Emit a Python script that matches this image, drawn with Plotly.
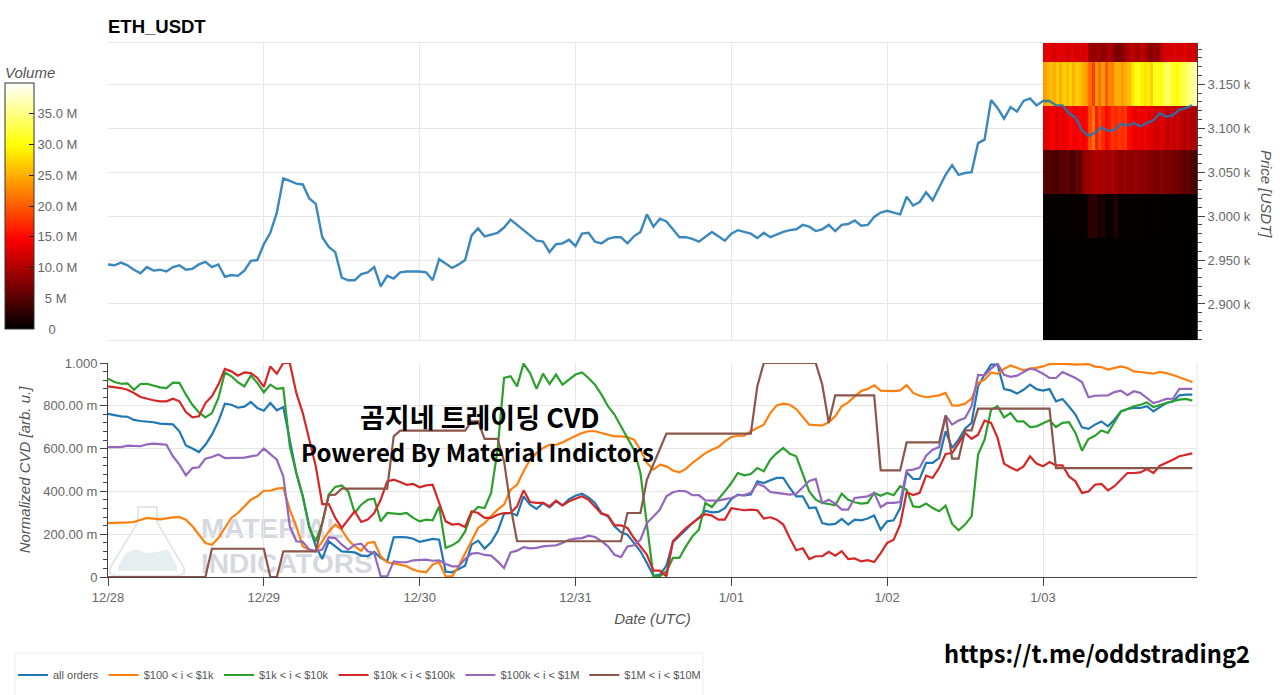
import pandas as pd
import plotly.graph_objects as go

# hourly samples, 12/28 00:00 onwards
START = "2025-12-28 00:00"
AXIS_END = "2026-01-03 23:43"

price = [
    2945, 2944, 2947, 2944, 2939, 2935, 2942, 2938, 2939, 2937,
    2942, 2944, 2939, 2940, 2945, 2948, 2942, 2945, 2931, 2933,
    2932, 2938, 2949, 2950, 2968, 2981, 3004, 3043, 3040, 3037,
    3036, 3020, 3014, 2976, 2965, 2959, 2930, 2927, 2927, 2934,
    2936, 2942, 2920, 2932, 2929, 2936, 2937, 2937, 2937, 2936,
    2927, 2951, 2946, 2941, 2945, 2950, 2978, 2986, 2977, 2979,
    2981, 2987, 2996, 2990, 2984, 2978, 2972, 2971, 2959, 2968,
    2969, 2973, 2966, 2980, 2981, 2971, 2969, 2974, 2976, 2976,
    2969, 2977, 2982, 3002, 2988, 2997, 2994, 2985, 2976, 2976,
    2974, 2971, 2976, 2982, 2977, 2972, 2980, 2984, 2982, 2980,
    2975, 2981, 2976, 2979, 2982, 2984, 2985, 2990, 2988, 2983,
    2985, 2990, 2983, 2990, 2991, 2995, 2989, 2990, 2999, 3004,
    3006, 3004, 3002, 3022, 3012, 3016, 3027, 3018, 3033, 3047,
    3058, 3047, 3049, 3050, 3083, 3087, 3132, 3123, 3111, 3124,
    3119, 3131, 3134, 3126, 3131, 3131, 3126, 3126, 3117, 3112,
    3098, 3091, 3095, 3101, 3097, 3098, 3105, 3103, 3106, 3102,
    3106, 3109, 3117, 3113, 3115, 3121, 3123, 3126,
]

all_orders = [
    .762, .755, .751, .749, .734, .729, .727, .723, .717, .715,
    .713, .681, .615, .600, .584, .618, .665, .727, .810, .805,
    .791, .796, .818, .790, .777, .813, .779, .794, .642, .486,
    .377, .237, .143, .084, .167, .143, .120, .117, .115, .100,
    .097, .117, .089, .073, .185, .187, .185, .179, .164, .171,
    .178, .174, .025, .022, .037, .053, .151, .170, .133, .162,
    .213, .296, .299, .288, .377, .338, .318, .346, .326, .354,
    .335, .364, .380, .389, .372, .346, .299, .283, .237, .209,
    .198, .159, .120, .065, .006, .011, .053, .162, .190, .221,
    .252, .276, .310, .302, .304, .322, .364, .385, .381, .385,
    .447, .439, .452, .463, .463, .416, .377, .377, .322, .325,
    .252, .245, .248, .271, .245, .268, .265, .273, .287, .221,
    .260, .265, .322, .489, .458, .458, .533, .533, .556, .681,
    .603, .642, .693, .720, .891, .946, .992, .992, .878, .872,
    .857, .875, .899, .878, .871, .878, .821, .832, .797, .759,
    .699, .692, .712, .727, .704, .735, .774, .785, .790, .790,
    .798, .774, .794, .813, .821, .849, .852, .852,
]

orders_100_1k = [
    .252, .252, .254, .255, .257, .268, .276, .273, .269, .274,
    .279, .280, .268, .237, .198, .159, .151, .182, .229, .276,
    .299, .330, .361, .377, .403, .403, .413, .416, .315, .237,
    .143, .128, .120, .167, .213, .245, .221, .174, .143, .123,
    .159, .164, .097, .069, .065, .058, .050, .034, .026, .022,
    .058, .069, .003, .003, .050, .112, .167, .229, .252, .283,
    .315, .338, .408, .431, .494, .548, .579, .603, .618, .618,
    .629, .645, .660, .673, .681, .681, .673, .665, .657, .657,
    .654, .642, .595, .533, .502, .525, .517, .498, .489, .505,
    .533, .556, .579, .595, .607, .634, .654, .660, .660, .681,
    .696, .712, .766, .802, .810, .805, .785, .751, .712, .710,
    .708, .723, .751, .798, .816, .844, .869, .879, .896, .871,
    .869, .869, .872, .897, .860, .847, .840, .844, .849, .860,
    .802, .801, .810, .833, .907, .922, .956, .949, .972, .989,
    .977, .966, .974, .977, .984, .995, .997, .997, .995, .992,
    .992, .995, .983, .981, .969, .977, .984, .977, .961, .958,
    .955, .950, .958, .953, .944, .933, .919, .911,
]

orders_1k_10k = [
    .927, .911, .903, .905, .875, .902, .903, .896, .886, .883,
    .908, .907, .852, .805, .769, .746, .766, .836, .956, .938,
    .911, .891, .941, .907, .863, .899, .879, .883, .611, .486,
    .377, .229, .167, .252, .385, .421, .428, .400, .299, .338,
    .361, .366, .260, .299, .296, .294, .299, .276, .260, .268,
    .265, .330, .136, .148, .167, .213, .299, .327, .322, .393,
    .595, .930, .938, .891, .997, .953, .879, .950, .902, .946,
    .899, .922, .946, .956, .930, .899, .852, .798, .759, .704,
    .650, .595, .486, .252, .003, .003, .026, .089, .089, .143,
    .190, .221, .346, .327, .361, .400, .439, .486, .475, .481,
    .509, .494, .548, .579, .603, .576, .564, .486, .400, .361,
    .346, .341, .335, .389, .361, .349, .343, .346, .393, .380,
    .393, .382, .424, .408, .330, .327, .343, .322, .307, .333,
    .248, .218, .245, .283, .572, .642, .782, .798, .746, .766,
    .727, .727, .701, .704, .720, .732, .701, .720, .723, .673,
    .590, .645, .660, .685, .673, .727, .774, .785, .798, .805,
    .816, .794, .805, .813, .821, .829, .832, .824,
]

orders_10k_100k = [
    .891, .888, .883, .875, .860, .841, .833, .826, .821, .821,
    .833, .821, .771, .746, .751, .813, .844, .899, .972, .961,
    .941, .956, .953, .930, .888, .984, .950, 1.00, 1.00, .860,
    .766, .642, .517, .341, .341, .276, .229, .268, .307, .257,
    .268, .299, .361, .447, .455, .444, .431, .435, .419, .428,
    .431, .346, .260, .245, .248, .234, .307, .299, .276, .276,
    .291, .299, .299, .330, .405, .350, .346, .346, .330, .357,
    .335, .354, .366, .377, .361, .327, .296, .288, .241, .241,
    .229, .182, .143, .104, .030, .030, .003, .167, .198, .229,
    .252, .276, .294, .287, .268, .268, .322, .318, .312, .315,
    .312, .273, .279, .268, .245, .182, .125, .134, .084, .097,
    .097, .118, .100, .121, .084, .087, .073, .079, .070, .112,
    .159, .174, .245, .396, .383, .393, .474, .463, .509, .575,
    .579, .626, .673, .646, .665, .731, .720, .650, .530, .512,
    .498, .517, .564, .530, .517, .537, .522, .522, .470, .447,
    .393, .400, .431, .435, .405, .424, .455, .486, .486, .489,
    .505, .486, .520, .533, .548, .564, .572, .578,
]

orders_100k_1m = [
    .607, .606, .607, .614, .614, .611, .620, .623, .621, .618,
    .564, .525, .475, .509, .513, .553, .561, .573, .556, .556,
    .559, .558, .564, .569, .600, .572, .548, .470, .237, .167,
    .164, .128, .120, .128, .185, .182, .151, .128, .151, .156,
    .120, .112, .003, .003, .073, .069, .069, .078, .081, .081,
    .076, .078, .061, .050, .050, .084, .109, .112, .103, .100,
    .073, .042, .115, .123, .139, .134, .136, .143, .146, .148,
    .159, .174, .179, .182, .193, .187, .167, .143, .104, .093,
    .143, .148, .174, .252, .283, .315, .377, .396, .403, .400,
    .382, .383, .358, .357, .357, .364, .369, .382, .383, .393,
    .436, .424, .397, .393, .388, .385, .389, .420, .449, .458,
    .346, .361, .343, .315, .315, .369, .372, .377, .393, .326,
    .346, .346, .350, .498, .502, .511, .567, .595, .607, .755,
    .712, .731, .743, .798, .944, .942, .974, .997, .945, .935,
    .941, .956, .974, .966, .950, .930, .930, .958, .945, .930,
    .911, .840, .847, .849, .849, .864, .871, .850, .868, .860,
    .836, .813, .821, .832, .833, .879, .879, .879,
]

orders_1m_10m = [
    0, 0, 0, 0, 0, 0, 0, 0, 0, 0,
    0, 0, 0, 0, 0, 0, .132, .132, .132, .132,
    .132, .132, .132, .132, .132, 0, 0, .120, .120, .120,
    .120, .120, .120, .252, .382, .385, .413, .413, .413, .413,
    .413, .413, .413, .413, .657, .684, .684, .684, .684, .684,
    .684, .684, .684, .684, .684, .684, .727, .727, .645, .645,
    .645, .540, .330, .167, .167, .167, .167, .167, .167, .167,
    .167, .167, .167, .167, .167, .167, .167, .167, .167, .167,
    .299, .299, .299, .455, .525, .595, .670, .670, .670, .670,
    .670, .670, .670, .670, .670, .670, .670, .670, .670, .670,
    .891, 1.00, 1.00, 1.00, 1.00, 1.00, 1.00, 1.00, 1.00, 1.00,
    .899, .720, .849, .849, .849, .849, .849, .849, .849, .498,
    .498, .498, .498, .629, .629, .629, .629, .629, .629, .755,
    .553, .553, .685, .685, .787, .787, .787, .787, .787, .787,
    .787, .787, .787, .787, .787, .787, .509, .509, .509, .509,
    .509, .509, .509, .509, .509, .509, .509, .509, .509, .509,
    .509, .509, .509, .509, .509, .509, .509, .509,
]

series_names = ["all orders", "$100 < i < $1k", "$1k < i < $10k", "$10k < i < $100k",
                "$100k < i < $1M", "$1M < i < $10M"]
series_values = [all_orders, orders_100_1k, orders_1k_10k, orders_10k_100k,
                 orders_100k_1m, orders_1m_10m]
series_colors = ["#1f77b4", "#ff7f0e", "#2ca02c", "#d62728", "#9467bd", "#8c564b"]

# volume profile for the last day, in millions, half hour columns
price_bins = [2859, 2875, 2925, 2975, 3025, 3075, 3125, 3175, 3197]
vol_2859 = [.1] * 48
vol_2875 = [.1] * 48
vol_2925 = [.1] * 48
vol_2975 = [.4, .3, .4, .3, .4, .3, .4, .4, .3, .4, .4, .3, .4, .5, 2.5, 2.6,
            2.4, .5, 2, .4, .5, .5, 2, .4, .4, .3, .3, .4, .3, .3, .4, .3,
            .3, .3, .4, .3, .3, .3, .3, .3, .3, .3, .3, .3, .3, .3, .3, .3]
vol_3025 = [5, 4, 5, 4, 4, 5, 5, 6, 4, 4, 6, 5, 8, 9, 9, 10,
            10, 9, 10, 9, 9, 10, 9, 8, 8, 9, 8, 8, 9, 8, 8, 8,
            7, 8, 7, 7, 8, 7, 7, 7, 6, 7, 6, 5, 6, 5, 4, 5]
vol_3075 = [13, 13, 14, 14, 13, 14, 13, 14, 15, 14, 14, 15, 14, 15, 19, 22,
            16, 19, 17, 15, 16, 18, 17, 18, 17, 18, 15, 14, 13, 14, 13, 14,
            13, 13, 12, 12, 13, 12, 11, 12, 11, 12, 11, 10, 11, 10, 10, 11]
vol_3125 = [24, 25, 26, 25, 27, 25, 27, 26, 27, 25, 27, 26, 25, 24, 21, 18,
            24, 21, 24, 20, 23, 22, 25, 25, 24, 25, 26, 28, 30, 31, 29, 28,
            29, 27, 31, 31, 30, 33, 34, 32, 31, 30, 32, 33, 34, 35, 37, 36]
vol_3175 = [13, 13, 13, 12, 13, 13, 13, 12, 13, 13, 12, 13, 12, 13, 9, 8,
            9, 9, 8, 9, 10, 9, 7, 7, 8, 9, 10, 11, 10, 9, 11, 10,
            8, 8, 9, 8, 11, 12, 12, 12, 13, 12, 12, 13, 12, 12, 12, 12]
volume = [vol_2859, vol_2875, vol_2925, vol_2975, vol_3025, vol_3075, vol_3125, vol_3175]

price_ticks = [2900, 2950, 3000, 3050, 3100, 3150]
price_labels = ["2.900 k", "2.950 k", "3.000 k", "3.050 k", "3.100 k", "3.150 k"]
cvd_ticks = [0, .2, .4, .6, .8, 1]
cvd_labels = ["0", "200.00 m", "400.00 m", "600.00 m", "800.00 m", "1.000"]
volume_ticks = [0, 5, 10, 15, 20, 25, 30, 35]
volume_labels = ["\u00a0\u00a0\u00a00", "\u00a0\u00a05 M", "10.0 M", "15.0 M", "20.0 M", "25.0 M", "30.0 M", "35.0 M"]

W, H = 1280, 695
L, R, T, B = 108, 1197, 43, 577
GRID = "#e6e6e6"
AXIS = "#444444"
TICK_FONT = dict(family="Liberation Sans", size=13, color="#666666")
TITLE_FONT = dict(family="Liberation Sans", size=15, color="#555555", style="italic")
TEXT_FONT = "Noto Sans CJK KR"


# page pixels to paper coordinates, for decoration only
def px(x):
    return (x - L) / (R - L)


def py(y):
    return (B - y) / (B - T)


def flask_path(points):
    return "M" + " L".join(f"{px(x):.4f},{py(y):.4f}" for x, y in points) + " Z"


def note(text, x, y, font, **kw):
    return dict(text=text, xref="paper", yref="paper", x=px(x), y=py(y), xanchor="center", yanchor="middle",
                showarrow=False, font=font, **kw)


hours = pd.date_range(START, periods=len(price), freq="h")
for vals in series_values:
    assert len(vals) == len(price), len(vals)
profile_edges = pd.date_range("2026-01-03 00:00", periods=len(vol_3125) + 1, freq="30min")

fig = go.Figure()

fig.add_trace(go.Heatmap(
    x=profile_edges, y=price_bins, z=volume,
    xaxis="x2", yaxis="y2",
    zmin=0, zmax=40,
    colorscale=[[0, "#000000"], [.365, "#ff0000"], [.746, "#ffff00"], [1, "#ffffff"]],
    colorbar=dict(
        x=px(5), xanchor="left", y=py(206), yanchor="middle",
        xpad=0, ypad=0,
        lenmode="pixels", len=246, thicknessmode="pixels", thickness=29,
        outlinewidth=1, outlinecolor="#333333",
        tickmode="array", tickvals=volume_ticks, ticktext=volume_labels,
        ticks="inside", ticklen=5, tickcolor="#222222",
        tickfont=TICK_FONT,
    ),
    hoverinfo="skip",
))

fig.add_trace(go.Scatter(
    x=hours, y=price, mode="lines", xaxis="x2", yaxis="y2",
    line=dict(color="rgba(31,119,180,0.88)", width=2.4),
    showlegend=False,
))

for name, vals, color in zip(series_names, series_values, series_colors):
    fig.add_trace(go.Scatter(
        x=hours, y=vals, mode="lines", name=name,
        line=dict(color=color, width=2.2),
    ))

shapes = [
    # right edge of the lower panel
    dict(type="line", xref="paper", yref="paper", x0=1, x1=1, y0=0, y1=py(363),
         line=dict(color=GRID, width=1), layer="below"),
    # legend box, runs off the bottom of the page
    dict(type="rect", xref="paper", yref="paper", x0=px(15), x1=px(703), y0=py(653), y1=py(700),
         line=dict(color="#eeeeee", width=1), layer="below"),
    # watermark flask
    dict(type="path", xref="paper", yref="paper", layer="below",
         path=flask_path([(138, 507), (157, 507), (157, 522), (184, 568), (184, 573), (179, 576),
                          (115, 576), (110, 573), (110, 568), (138, 522)]),
         line=dict(color="#e4e6e8", width=2), fillcolor="rgba(255,255,255,0)"),
    dict(type="path", xref="paper", yref="paper", layer="below",
         path=flask_path([(118, 566), (126, 553), (136, 549), (146, 553), (158, 552), (168, 549),
                          (177, 566), (177, 571), (118, 571)]),
         line=dict(width=0), fillcolor="#e6eeef"),
    # watermark words, shape labels so that the lines stay on top
    dict(type="rect", xref="paper", yref="paper", x0=px(198), x1=px(372), y0=py(540), y1=py(510),
         line=dict(width=0), layer="below",
         label=dict(text="MATERIAL", textposition="middle left", padding=0,
                    font=dict(family="Liberation Sans", size=28, color="#d5d9df", weight="bold"))),
    dict(type="rect", xref="paper", yref="paper", x0=px(198), x1=px(372), y0=py(575), y1=py(545),
         line=dict(width=0), layer="below",
         label=dict(text="INDICATORS", textposition="middle left", padding=0,
                    font=dict(family="Liberation Sans", size=28, color="#d5d9df", weight="bold"))),
]

annotations = [
    note("Volume", 30, 72, TITLE_FONT),
    note("Price [USDT]", 1267, 194, TITLE_FONT, textangle=90),
    note("곰지네 트레이딩 CVD", 480, 417, dict(family=TEXT_FONT, size=27, color="#000000", weight="bold")),
    note("Powered By Material Indictors", 478, 451, dict(family=TEXT_FONT, size=24, color="#000000", weight="bold")),
    note("https://t.me/oddstrading2", 1096.5, 653, dict(family=TEXT_FONT, size=23.7, color="#000000", weight="bold")),
]

fig.update_layout(
    width=W, height=H,
    margin=dict(l=L, r=W - R, t=T, b=H - B, pad=0, autoexpand=False),
    paper_bgcolor="#ffffff", plot_bgcolor="#ffffff",
    title=dict(text="<b>ETH_USDT</b>", xref="paper", x=0, xanchor="left", yref="container", y=1 - 27 / H,
               yanchor="middle", font=dict(family="Liberation Sans", size=18.5, color="#000000")),
    showlegend=True,
    legend=dict(orientation="h", x=px(13), xanchor="left", y=py(675), yanchor="middle",
                bgcolor="rgba(0,0,0,0)", font=dict(family="Liberation Sans", size=11, color="#555555")),
    shapes=shapes,
    annotations=annotations,
    xaxis=dict(
        domain=[0, 1], anchor="y", type="date", range=[START, AXIS_END],
        dtick=86400000, tick0=START, tickformat="%-m/%d",
        showgrid=True, gridcolor=GRID, showline=True, linecolor=AXIS, linewidth=1,
        ticks="outside", ticklen=8, tickcolor=AXIS, tickfont=TICK_FONT,
        title=dict(text="Date (UTC)", font=TITLE_FONT, standoff=9),
    ),
    yaxis=dict(
        domain=[0, py(363)], anchor="x", range=[0, 1],
        tickmode="array", tickvals=cvd_ticks, ticktext=cvd_labels,
        showgrid=True, gridcolor=GRID, zeroline=False, showline=True, linecolor=AXIS, linewidth=1,
        ticks="outside", ticklen=7, tickcolor=AXIS, tickfont=TICK_FONT,
        minor=dict(ticks="outside", ticklen=4, tickcolor=AXIS, dtick=.04, tick0=0, showgrid=False),
        title=dict(text="Normalized CVD [arb. u.]", font=TITLE_FONT, standoff=8),
    ),
    xaxis2=dict(
        domain=[0, 1], anchor="y2", type="date", matches="x", showticklabels=False,
        dtick=86400000, tick0=START, ticks="",
        showgrid=True, gridcolor=GRID, showline=True, linecolor=GRID, mirror=True, linewidth=1,
    ),
    yaxis2=dict(
        domain=[py(340), 1], anchor="x2", side="right", range=[2859, 3197],
        tickmode="array", tickvals=price_ticks, ticktext=price_labels,
        showgrid=True, gridcolor=GRID, zeroline=False, showline=True, linecolor=AXIS, linewidth=1,
        ticks="outside", ticklen=7, tickcolor=AXIS, tickfont=TICK_FONT,
        minor=dict(ticks="outside", ticklen=4, tickcolor=AXIS, dtick=10, tick0=2900, showgrid=False),
    ),
)

fig.write_html("out.html", post_script="document.body.style.margin='0';",
               config={"displayModeBar": False})
